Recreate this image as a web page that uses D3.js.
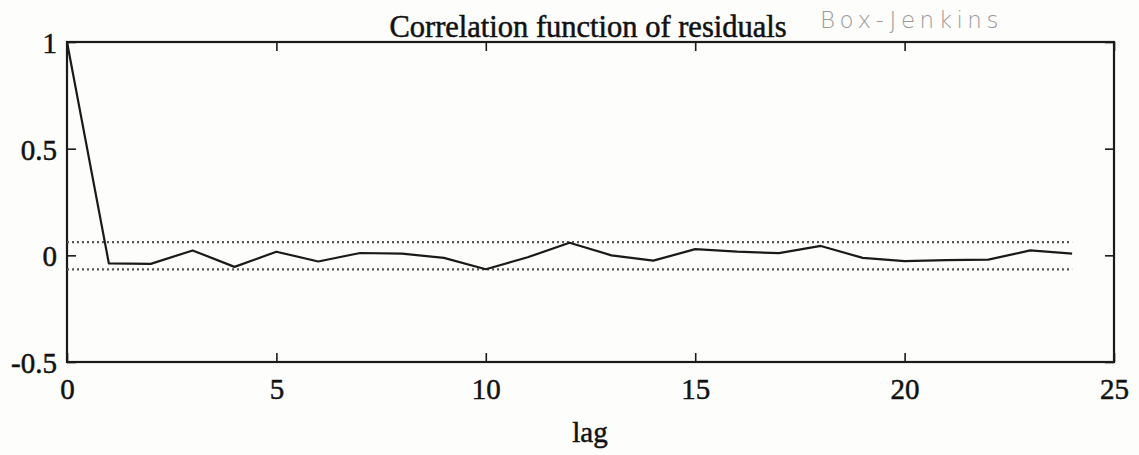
<!DOCTYPE html>
<html>
<head>
<meta charset="utf-8">
<script src="https://cdn.jsdelivr.net/npm/d3@7"></script>
<style>
  html, body { margin: 0; padding: 0; background: #fdfdfb; }
  svg { display: block; }
  text { font-family: "Liberation Serif", "Times New Roman", serif; fill: #111; }
</style>
</head>
<body>
<svg id="chart" width="1139" height="455"></svg>
<script>
// ---- data ----
const lags = [0,1,2,3,4,5,6,7,8,9,10,11,12,13,14,15,16,17,18,19,20,21,22,23,24];
const acf  = [1.0,-0.038,-0.040,0.023,-0.054,0.017,-0.029,0.011,0.008,-0.012,-0.065,-0.009,0.059,0.0,-0.025,0.029,0.017,0.010,0.044,-0.012,-0.027,-0.022,-0.020,0.023,0.008];
const confUpper = 0.062;
const confLower = -0.066;
const xTicks = [0,5,10,15,20,25];
const yTicks = [-0.5,0,0.5,1];
const yTickLabels = ["-0.5","0","0.5","1"];
const titleText = "Correlation function of residuals";
const noteText = "Box-Jenkins";
const xLabelText = "lag";

// ---- layout ----
const svg = d3.select("#chart");
const L = 67, R = 1114, T = 42, B = 362;
const x = d3.scaleLinear().domain([0,25]).range([L,R]);
const y = d3.scaleLinear().domain([-0.5,1]).range([B,T]);
const ink = "#1a1a1a";
const tickLen = 9;

// frame
svg.append("rect").attr("x",L).attr("y",T).attr("width",R-L).attr("height",B-T)
  .attr("fill","none").attr("stroke",ink).attr("stroke-width",2.2);

// axes (inner ticks on all sides)
const fmtY = d => yTickLabels[yTicks.indexOf(d)];
const gB = svg.append("g").attr("transform",`translate(0,${B})`)
  .call(d3.axisBottom(x).tickValues(xTicks).tickSizeInner(-tickLen).tickSizeOuter(0).tickPadding(16).tickFormat(d3.format("d")));
const gT = svg.append("g").attr("transform",`translate(0,${T})`)
  .call(d3.axisTop(x).tickValues(xTicks).tickSizeInner(-tickLen).tickSizeOuter(0).tickFormat(""));
const gL = svg.append("g").attr("transform",`translate(${L},0)`)
  .call(d3.axisLeft(y).tickValues(yTicks).tickSizeInner(-tickLen).tickSizeOuter(0).tickPadding(10).tickFormat(fmtY));
const gR = svg.append("g").attr("transform",`translate(${R},0)`)
  .call(d3.axisRight(y).tickValues(yTicks).tickSizeInner(-tickLen).tickSizeOuter(0).tickFormat(""));
[gB,gT,gL,gR].forEach(g => {
  g.select(".domain").remove();
  g.selectAll(".tick line").attr("stroke",ink).attr("stroke-width",1.6);
  g.selectAll("text").attr("font-family","Liberation Serif, serif").attr("font-size",29)
    .attr("fill","#111").attr("stroke","#111").attr("stroke-width",0.5);
});
gL.selectAll("text").attr("dy","0.36em");

// confidence band (dotted)
[confUpper, confLower].forEach(v => {
  svg.append("line")
    .attr("x1",x(lags[0])).attr("x2",x(lags[lags.length-1]))
    .attr("y1",y(v)).attr("y2",y(v))
    .attr("stroke","#555").attr("stroke-width",2.4)
    .attr("stroke-dasharray","2,3");
});

// ACF line
const line = d3.line().x((d,i)=>x(lags[i])).y(d=>y(d));
svg.append("path").datum(acf).attr("d",line)
  .attr("fill","none").attr("stroke",ink).attr("stroke-width",2.2).attr("stroke-linejoin","round");

// title
svg.append("text").attr("x",588).attr("y",37).attr("text-anchor","middle")
  .attr("font-size",30.5).attr("stroke","#111").attr("stroke-width",0.5).text(titleText);

// handwritten note
svg.append("text").attr("x",820).attr("y",28)
  .style("font-family","'DejaVu Sans', sans-serif").style("font-weight","200")
  .attr("font-size",23).attr("letter-spacing",4.5).style("fill","#9a9a9a")
  .text(noteText);

// x label
svg.append("text").attr("x",590).attr("y",442).attr("text-anchor","middle")
  .attr("font-size",29).attr("stroke","#111").attr("stroke-width",0.5).text(xLabelText);
</script>
</body>
</html>
